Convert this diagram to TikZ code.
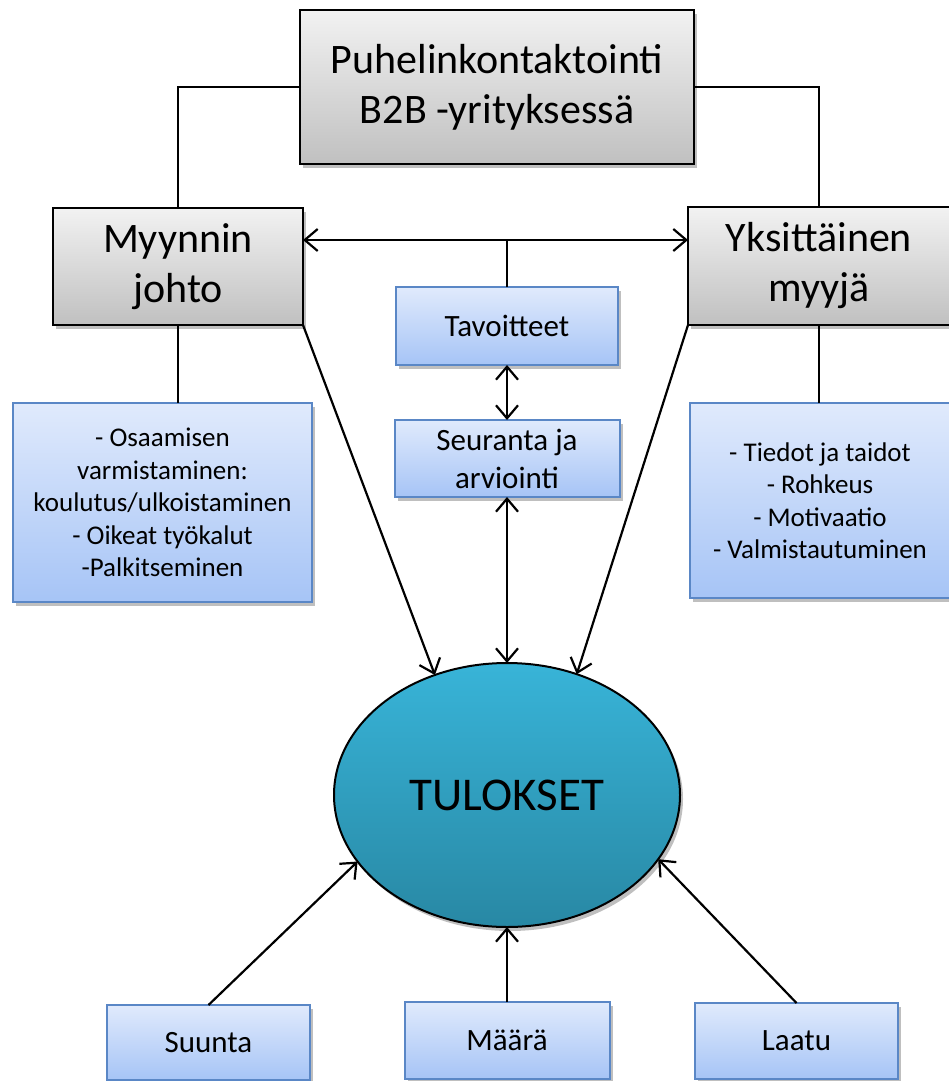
\documentclass[tikz,border=0pt]{standalone}
\usepackage{fontspec}
\setmainfont{Carlito}
\usetikzlibrary{arrows.meta,shapes.geometric,shadows}
\definecolor{graytop}{RGB}{242,242,242}
\definecolor{graybot}{RGB}{192,192,192}
\definecolor{bluetop}{RGB}{224,234,252}
\definecolor{bluebot}{RGB}{166,196,246}
\definecolor{blueedge}{RGB}{90,135,198}
\definecolor{tealtop}{RGB}{56,180,216}
\definecolor{tealbot}{RGB}{40,136,164}
\begin{document}
\begin{tikzpicture}[x=1pt,y=-1pt,
  shd/.style={drop shadow={shadow xshift=3pt,shadow yshift=-4pt,opacity=0.25,fill=black}},
  graybox/.style={draw=black,line width=2.5pt,top color=graytop,bottom color=graybot,
    inner sep=0pt,outer sep=0pt,align=center,shd,
    font=\fontsize{42pt}{50pt}\selectfont},
  bluebox/.style={draw=blueedge,line width=2pt,top color=bluetop,bottom color=bluebot,
    inner sep=0pt,outer sep=0pt,align=center,shd},
  midtxt/.style={font=\fontsize{31pt}{38pt}\selectfont},
  sidetxt/.style={font=\fontsize{27pt}{32.5pt}\selectfont},
  conn/.style={line width=2.2pt,draw=black},
  arr/.style={conn,-{Straight Barb[length=13pt,width=22pt]}},
  dbl/.style={conn,{Straight Barb[length=13pt,width=22pt]}-{Straight Barb[length=13pt,width=22pt]}}
]
\useasboundingbox (0,0) rectangle (948,1081);

% main boxes
\node[graybox,minimum width=394pt,minimum height=154pt] (top) at (497,87) {Puhelinkontaktointi\\B2B -yrityksessä};
\node[graybox,minimum width=250pt,minimum height=117pt] (myy) at (178,266.5) {Myynnin\\johto};
\node[graybox,minimum width=262pt,minimum height=118pt] (yks) at (819,266) {Yksittäinen\\myyjä};

% middle boxes
\node[bluebox,midtxt,minimum width=222pt,minimum height=78pt] (tav) at (507,326) {Tavoitteet};
\node[bluebox,midtxt,minimum width=225pt,minimum height=77pt] (seu) at (507,458.5) {Seuranta ja\\arviointi};

% side boxes
\node[bluebox,sidetxt,minimum width=299pt,minimum height=199pt] (lbox) at (162.5,502.5)
  {- Osaamisen\\varmistaminen:\\koulutus/ulkoistaminen\\- Oikeat työkalut\\-Palkitseminen};
\node[bluebox,sidetxt,minimum width=260pt,minimum height=195pt] (rbox) at (820,500.5)
  {- Tiedot ja taidot\\- Rohkeus\\- Motivaatio\\- Valmistautuminen};

% result ellipse
\node[ellipse,draw=black,line width=2pt,top color=tealtop,bottom color=tealbot,
  minimum width=346pt,minimum height=264pt,inner sep=0pt,outer sep=0pt,shd,
  font=\fontsize{47pt}{56pt}\selectfont] (tul) at (507,795) {TULOKSET};

% bottom boxes
\node[bluebox,midtxt,minimum width=203pt,minimum height=75pt] (sun) at (208.5,1042.5) {Suunta};
\node[bluebox,midtxt,minimum width=205pt,minimum height=77pt] (maa) at (507,1040.5) {Määrä};
\node[bluebox,midtxt,minimum width=203pt,minimum height=76pt] (laa) at (796.5,1041) {Laatu};

% connectors
\coordinate (yline) at (0,240);
\draw[conn] (top.west) -| (myy.north);
\draw[conn] (top.east) -| (yks.north);
\draw[dbl] (myy.east |- yline) -- (yks.west |- yline);
\draw[conn] (tav.north) -- (tav.north |- yline);
\draw[dbl] (tav.south) -- (seu.north);
\draw[dbl] (seu.south) -- (tul.north);
\draw[conn] (myy.south) -- (myy.south |- lbox.north);
\draw[conn] (yks.south) -- (yks.south |- rbox.north);
\draw[arr] (myy.south east) -- (tul.121);
\draw[arr] (yks.south west) -- (tul.60);
\draw[arr] (sun.north) -- (tul.204);
\draw[arr] (maa.north) -- (tul.south);
\draw[arr] (laa.north) -- (tul.337);
\end{tikzpicture}
\end{document}
